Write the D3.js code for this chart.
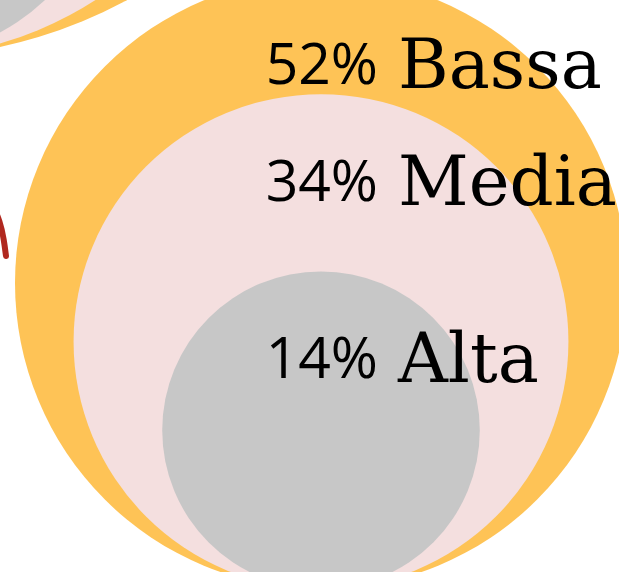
<!DOCTYPE html>
<html>
<head>
<meta charset="utf-8">
<script src="https://cdn.jsdelivr.net/npm/d3@7"></script>
<style>
  html, body { margin: 0; padding: 0; background: #fff; }
  svg { display: block; }
  .pct { font-family: "Open Sans", "Noto Sans", sans-serif; fill: #000; }
  .lbl { font-family: "DejaVu Serif", serif; fill: #000; }
</style>
</head>
<body>
<div id="chart"></div>
<script>
// livello di istruzione
const categories = ["Bassa", "Media", "Alta"];
const shares = [52, 34, 14];
const colors = ["#FEC356", "#F4DFDF", "#C7C7C7"];
// gruppo precedente (piu' grande), visibile solo in parte in alto a sinistra
const prevShares = [56, 32, 11];
// connettore rosso (punti in pixel)
const linkPts = [[-8, 203], [0, 221], [4, 240], [6, 256]];

const width = 619, height = 572;

const svg = d3.select("#chart").append("svg")
    .attr("width", width)
    .attr("height", height);

// filtri per assottigliare un po' i glifi
const defs = svg.append("defs");
[["thin", 0.4], ["thin2", 0.3]].forEach(f => {
    defs.append("filter").attr("id", f[0])
        .append("feMorphology")
        .attr("operator", "erode")
        .attr("radius", f[1]);
});

// raggio proporzionale alla radice della quota
const r = d3.scaleSqrt().domain([0, 52]).range([0, 306]);
const rPrev = d3.scaleSqrt().domain([0, 56]).range([0, 477]);

function drawGroup(vals, scale, cx, bottom, labels) {
    const g = svg.append("g");
    const data = vals.map((v, i) => ({v: v, cat: categories[i], col: colors[i]}));

    g.selectAll("circle")
        .data(data)
        .enter().append("circle")
        .attr("cx", cx)
        .attr("cy", d => bottom - scale(d.v))
        .attr("r", d => scale(d.v))
        .attr("fill", d => d.col);

    if (!labels) return;

    const rows = g.selectAll("g.row")
        .data(data)
        .enter().append("g")
        .attr("class", "row")
        .attr("transform", d => `translate(${cx},${bottom - 2 * scale(d.v) + 86})`);

    rows.append("text")
        .attr("class", "pct")
        .attr("x", 57)
        .attr("dy", "0.36em")
        .attr("text-anchor", "end")
        .attr("filter", "url(#thin2)")
        .style("font-size", "57px")
        .text(d => d.v + "%");

    rows.append("text")
        .attr("class", "lbl")
        .attr("x", 77)
        .attr("dy", "0.36em")
        .attr("filter", "url(#thin)")
        .style("font-size", "69px")
        .text(d => d.cat);
}

drawGroup(prevShares, rPrev, -100, 57.6, false);

svg.append("path")
    .datum(linkPts)
    .attr("d", d3.line().curve(d3.curveBasis))
    .attr("fill", "none")
    .attr("stroke", "#B0281F")
    .attr("stroke-width", 6)
    .attr("stroke-linecap", "round");

drawGroup(shares, r, 321, 589, true);
</script>
</body>
</html>
